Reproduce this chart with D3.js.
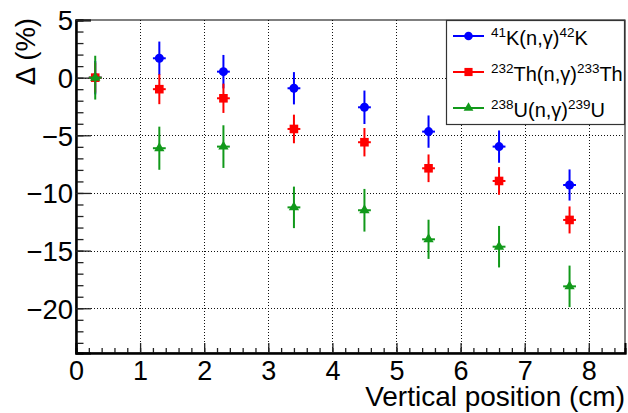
<!DOCTYPE html>
<html>
<head>
<meta charset="utf-8">
<script src="https://cdn.jsdelivr.net/npm/d3@7"></script>
<style>
  html, body { margin: 0; padding: 0; background: #fff; }
  svg { display: block; font-family: "Liberation Sans", Arial, Helvetica, sans-serif; }
</style>
</head>
<body>
<svg id="chart" width="628" height="413"></svg>
<script>
// Measurement positions (cm) shared by all three reactions
const positions = [0.3, 1.3, 2.3, 3.4, 4.5, 5.5, 6.6, 7.7];
const posErr = 0.1;

// Relative deviation Δ (%) and its uncertainty for each reaction
const kValues  = [0, 1.68, 0.52, -0.92, -2.57, -4.68, -5.98, -9.31];
const kErrors  = [1.45, 1.45, 1.45, 1.4, 1.45, 1.4, 1.4, 1.35];
const thValues = [0, -1.0, -1.79, -4.45, -5.6, -7.86, -8.96, -12.34];
const thErrors = [1.3, 1.3, 1.27, 1.24, 1.23, 1.2, 1.2, 1.17];
const uValues  = [0, -6.12, -5.98, -11.25, -11.5, -14.02, -14.66, -18.1];
const uErrors  = [1.9, 1.87, 1.85, 1.8, 1.85, 1.7, 1.8, 1.8];

// Axis ticks
const xMajor = [0, 1, 2, 3, 4, 5, 6, 7, 8];
const yMajor = [5, 0, -5, -10, -15, -20];

const series = [
  { name: "K",  label: [["41", true], ["K(n,γ)", false], ["42", true], ["K", false]],
    values: kValues, errors: kErrors, color: "#0000ff", symbol: d3.symbolCircle, size: 64 },
  { name: "Th", label: [["232", true], ["Th(n,γ)", false], ["233", true], ["Th", false]],
    values: thValues, errors: thErrors, color: "#ff0000", symbol: d3.symbolSquare, size: 74 },
  { name: "U",  label: [["238", true], ["U(n,γ)", false], ["239", true], ["U", false]],
    values: uValues, errors: uErrors, color: "#11991a", symbol: d3.symbolTriangle, size: 46 }
];

const svg = d3.select("#chart");
const frame = { left: 76, right: 625, top: 20, bottom: 353 };

const x = d3.scaleLinear().domain([0, 8.565]).range([frame.left, frame.right]);
const y = d3.scaleLinear().domain([-23.88, 5]).range([frame.bottom, frame.top]);

// Dotted grid at the major ticks
const grid = svg.append("g").attr("stroke", "#111").attr("stroke-width", 1)
  .attr("stroke-dasharray", "1,2").attr("fill", "none");
grid.selectAll("line.gx").data(xMajor.filter(v => v > 0)).join("line")
  .attr("x1", d => Math.round(x(d)) + 0.5).attr("x2", d => Math.round(x(d)) + 0.5)
  .attr("y1", frame.top).attr("y2", frame.bottom);
grid.selectAll("line.gy").data(yMajor.filter(v => v < 5)).join("line")
  .attr("y1", d => Math.round(y(d)) + 0.5).attr("y2", d => Math.round(y(d)) + 0.5)
  .attr("x1", frame.left).attr("x2", frame.right);

// Frame
svg.append("rect")
  .attr("x", frame.left).attr("y", frame.top)
  .attr("width", frame.right - frame.left).attr("height", frame.bottom - frame.top)
  .attr("fill", "none").attr("stroke", "#000").attr("stroke-width", 1);

// X axis: minor and major ticks pointing inward
const xMinorTicks = d3.range(0, 8.45, 0.2).map(v => +v.toFixed(1));
const xMinorAxis = svg.append("g").attr("transform", `translate(0,${frame.bottom})`)
  .call(d3.axisBottom(x).tickValues(xMinorTicks).tickSize(-5).tickFormat(""));
const xAxis = svg.append("g").attr("transform", `translate(0,${frame.bottom})`)
  .call(d3.axisBottom(x).tickValues(xMajor).tickSize(-10).tickFormat(d3.format("d")));
xAxis.selectAll("text").attr("y", 27).attr("dy", null)
  .attr("font-size", 27).attr("fill", "#000");

// Y axis
const yMinorTicks = d3.range(-23, 6, 1);
const yMinorAxis = svg.append("g").attr("transform", `translate(${frame.left},0)`)
  .call(d3.axisLeft(y).tickValues(yMinorTicks).tickSize(-7.5).tickFormat(""));
const yAxis = svg.append("g").attr("transform", `translate(${frame.left},0)`)
  .call(d3.axisLeft(y).tickValues(yMajor).tickSize(-15).tickPadding(3));
yAxis.selectAll("text").attr("font-size", 27.5).attr("dy", "0.36em").attr("fill", "#000");

[xMinorAxis, xAxis, yMinorAxis, yAxis].forEach(g => {
  g.select(".domain").attr("stroke", "#000").attr("stroke-width", 2);
  g.selectAll(".tick line").attr("stroke", "#222").attr("stroke-width", 1.3);
  g.attr("font-family", null);
});

// Axis titles
svg.append("text")
  .attr("x", frame.right).attr("y", 406)
  .attr("text-anchor", "end").attr("font-size", 28).attr("fill", "#000")
  .text("Vertical position (cm)");
svg.append("text")
  .attr("transform", "translate(35,18) rotate(-90)")
  .attr("text-anchor", "end").attr("font-size", 27.5).attr("fill", "#000")
  .text("Δ (%)");

// Data points with error bars
series.forEach(s => {
  const pts = positions.map((p, i) => ({ x: p, y: s.values[i], e: s.errors[i] }));
  const g = svg.append("g").attr("stroke", s.color).attr("stroke-width", 2);
  g.selectAll("line.ey").data(pts).join("line")
    .attr("x1", d => x(d.x)).attr("x2", d => x(d.x))
    .attr("y1", d => y(d.y + d.e)).attr("y2", d => y(d.y - d.e));
  g.selectAll("line.ex").data(pts).join("line")
    .attr("x1", d => x(d.x - posErr)).attr("x2", d => x(d.x + posErr))
    .attr("y1", d => y(d.y)).attr("y2", d => y(d.y));
  g.selectAll("path").data(pts).join("path")
    .attr("d", d3.symbol(s.symbol, s.size))
    .attr("transform", d => `translate(${x(d.x)},${y(d.y)})`)
    .attr("fill", s.color).attr("stroke", "none");
});

// Legend
const legend = svg.append("g");
legend.append("rect")
  .attr("x", 446.5).attr("y", 20.5).attr("width", 178).attr("height", 104)
  .attr("fill", "#fff").attr("stroke", "#333").attr("stroke-width", 1.2);
series.forEach((s, i) => {
  const cy = 36 + i * 36;
  const row = legend.append("g");
  row.append("line").attr("x1", 453).attr("x2", 484).attr("y1", cy).attr("y2", cy)
    .attr("stroke", s.color).attr("stroke-width", 2);
  row.append("path").attr("d", d3.symbol(s.symbol, s.size * 0.9))
    .attr("transform", `translate(468.5,${cy})`).attr("fill", s.color);
  const t = row.append("text").attr("x", 491).attr("y", cy + 8.5)
    .attr("font-size", 20).attr("fill", "#000");
  s.label.forEach(([str, sup]) => {
    t.append("tspan")
      .attr("font-size", sup ? 13.5 : 20)
      .attr("baseline-shift", sup ? "60%" : null)
      .text(str);
  });
});
</script>
</body>
</html>
